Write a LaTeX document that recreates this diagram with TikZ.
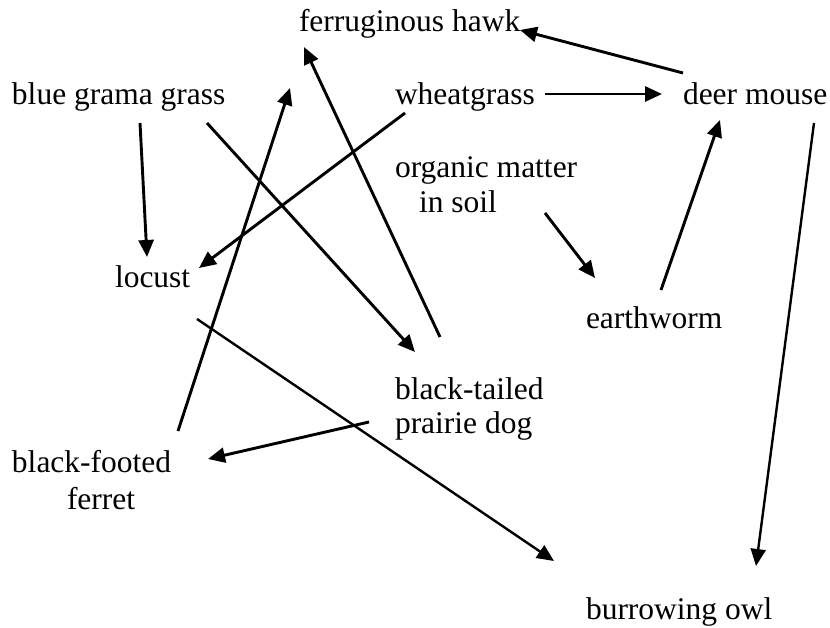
\documentclass[tikz,border=0pt]{standalone}
\usepackage{fontspec}
\setmainfont{Liberation Serif}
\usetikzlibrary{arrows.meta,calc}
\begin{document}
\begin{tikzpicture}[x=1pt,y=-1pt,
  lbl/.style={anchor=base west,inner sep=0pt,outer sep=0pt,font=\fontsize{31.5}{35}\selectfont},
  arr/.style={draw=black,line width=2.9pt,-{Triangle[length=17pt,width=15pt]}},
  thinarr/.style={arr,line width=2.4pt}]
\useasboundingbox (0,0) rectangle (830,628);
\node[lbl] (hawk) at (299,32) {ferruginous hawk};
\node[lbl] (bgg) at (12,105) {blue grama grass};
\node[lbl] (wheat) at (395,105) {wheatgrass};
\node[lbl] (deer) at (683,105) {deer mouse};
\node[lbl] (organic) at (395,178) {\vtop{\hbox{organic matter}\hbox{\hspace*{24pt}in soil}}};
\node[lbl] (locust) at (115,288) {locust};
\node[lbl] (earthworm) at (586,328) {earthworm};
\node[lbl] (btpd) at (395,399) {\vtop{\hbox{black-tailed}\hbox{prairie dog}}};
\node[lbl] (bff) at (12,472) {\vtop{\baselineskip=37pt\hbox{black-footed}\hbox{\hspace*{55pt}ferret}}};
\node[lbl] (owl) at (586,619) {burrowing owl};

\draw[arr] ($(bgg.base west)+(128,18)$) -- ($(locust.base west)+(32,-31)$);
\draw[arr] ($(bgg.base west)+(195,18)$) -- ($(btpd.base west)+(20,-47)$);
\draw[arr] ($(wheat.base west)+(10,8)$) -- ($(locust.base west)+(84,-20)$);
\draw[arr] ($(wheat.base west)+(150,-11)$) -- ($(deer.base west)+(-21,-11)$);
\draw[arr] ($(deer.base west)+(0,-32)$) -- ($(hawk.base west)+(221,-2)$);
\draw[arr] ($(bff.base west)+(166,-41)$) -- ($(hawk.base west)+(-9,56)$);
\draw[arr] ($(btpd.base west)+(45,-62)$) -- ($(hawk.base west)+(5,15)$);
\draw[arr] ($(btpd.base west)+(-26,23)$) -- ($(bff.base west)+(196,-13)$);
\draw[arr] ($(organic.base west)+(150,35)$) -- ($(earthworm.base west)+(9,-50)$);
\draw[arr] ($(earthworm.base west)+(75,-38)$) -- ($(deer.base west)+(37,15)$);
\draw[thinarr] ($(deer.base west)+(131,18)$) -- ($(owl.base west)+(170,-53)$);
\draw[thinarr] ($(locust.base west)+(82,31)$) -- ($(owl.base west)+(-32,-58)$);
\end{tikzpicture}
\end{document}
